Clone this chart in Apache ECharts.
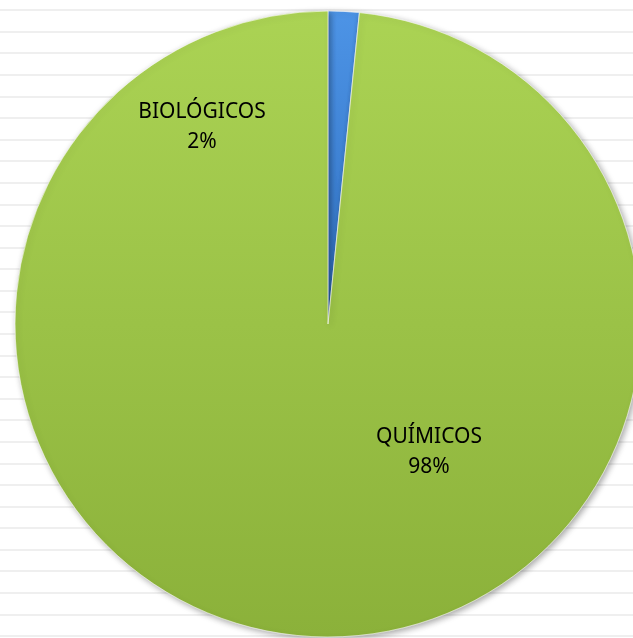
<!DOCTYPE html>
<html>
<head>
<meta charset="utf-8">
<script src="https://cdn.jsdelivr.net/npm/echarts@6/dist/echarts.min.js"></script>
<style>
html, body { margin: 0; padding: 0; background: #fff; }
#chart { width: 633px; height: 638px; }
</style>
</head>
<body>
<div id="chart"></div>
<script>
var categories = ["BIOLÓGICOS", "QUÍMICOS"];
var values = [1.6, 98.4];
var sliceColors = [["#4d94e6", "#2f6fc0"], ["#abd354", "#8bb13a"]];
// where Excel put the two labels
var labelSpots = [[202, 127], [429, 452]];

var chart = echarts.init(document.getElementById("chart"));

chart.setOption({
    backgroundColor: "#fff",
    // ruled background
    grid: { left: 0, right: 0, top: 10, bottom: 2 },
    xAxis: { type: "value", show: false },
    yAxis: {
        type: "value",
        min: 0,
        max: 29,
        interval: 1,
        axisLabel: { show: false },
        axisLine: { show: false },
        axisTick: { show: false },
        splitLine: { show: true, lineStyle: { color: "#efefef", width: 2 } }
    },
    series: [{
        type: "pie",
        center: [328, 324],
        radius: 313,
        startAngle: 90,
        clockwise: true,
        percentPrecision: 0,
        silent: true,
        data: categories.map(function (name, i) {
            return {
                name: name,
                value: values[i],
                itemStyle: {
                    color: new echarts.graphic.LinearGradient(0, 0, 0, 1, [
                        { offset: 0, color: sliceColors[i][0] },
                        { offset: 1, color: sliceColors[i][1] }
                    ])
                }
            };
        }),
        itemStyle: {
            borderColor: "rgba(255,255,255,0.35)",
            borderWidth: 1,
            shadowBlur: 6,
            shadowOffsetX: 2,
            shadowOffsetY: 2,
            shadowColor: "rgba(0,0,0,0.35)"
        },
        label: {
            show: true,
            position: "inside",
            formatter: "{b}\n{d}%",
            color: "#000",
            fontFamily: "Noto Sans",
            fontSize: 21,
            lineHeight: 30,
            align: "center"
        },
        labelLine: { show: false },
        labelLayout: function (params) {
            var p = labelSpots[params.dataIndex];
            return { x: p[0], y: p[1], align: "center", verticalAlign: "middle" };
        }
    }]
});
</script>
</body>
</html>
